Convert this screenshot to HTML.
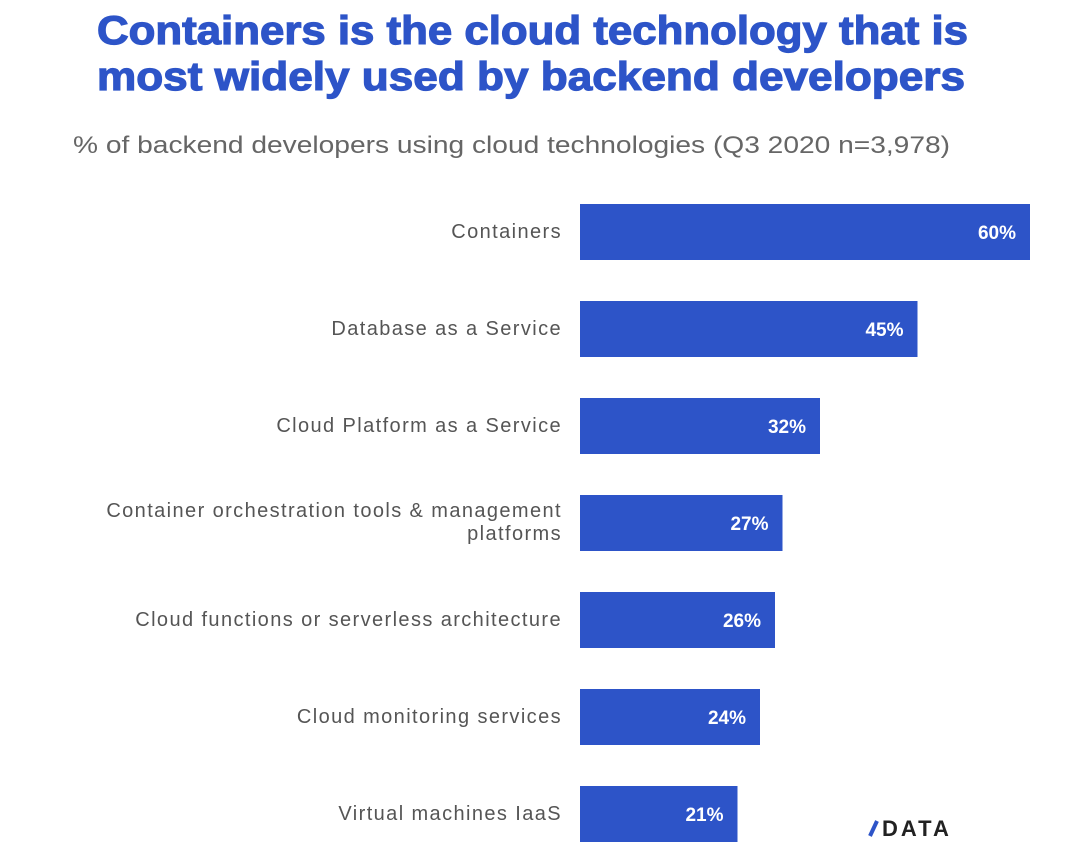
<!DOCTYPE html>
<html><head><meta charset="utf-8"><style>
html,body{margin:0;padding:0;background:#fff;}
svg{display:block;font-family:"Liberation Sans",sans-serif;}
</style></head><body>
<svg id="chart" width="1080" height="851" viewBox="0 0 1080 851" xmlns="http://www.w3.org/2000/svg">
<text x="97" y="44" font-size="40" font-weight="bold" fill="#2d54c8" stroke="#2d54c8" stroke-width="1.2" textLength="871" lengthAdjust="spacingAndGlyphs">Containers is the cloud technology that is</text>
<text x="97" y="90" font-size="40" font-weight="bold" fill="#2d54c8" stroke="#2d54c8" stroke-width="1.2" textLength="868" lengthAdjust="spacingAndGlyphs">most widely used by backend developers</text>
<text x="73" y="153" font-size="24" fill="#666" textLength="877" lengthAdjust="spacingAndGlyphs">% of backend developers using cloud technologies (Q3 2020 n=3,978)</text>
<g id="bars"></g>
<g>
<line x1="870" y1="836" x2="877" y2="821" stroke="#2d54c8" stroke-width="4"/>
<text x="882" y="836" font-size="22" font-weight="bold" fill="#222" letter-spacing="3">DATA</text>
</g>
</svg>
<script>
const categories = [["Containers"],["Database as a Service"],["Cloud Platform as a Service"],["Container orchestration tools & management","platforms"],["Cloud functions or serverless architecture"],["Cloud monitoring services"],["Virtual machines IaaS"]];
const values = [60,45,32,27,26,24,21];
const valueLabels = ["60%","45%","32%","27%","26%","24%","21%"];
const NS="http://www.w3.org/2000/svg";
const x0=580, pxPer=7.5, y0=204, step=97, bh=56;
const xScale=v=>x0+v*pxPer;
const yScale=i=>y0+i*step;
const g=document.getElementById('bars');
values.forEach((v,i)=>{
  const y=yScale(i);
  const r=document.createElementNS(NS,'rect');
  
  
  r.setAttribute('x',x0);r.setAttribute('y',y);
  r.setAttribute('width',xScale(v)-x0);r.setAttribute('height',bh);
  r.setAttribute('fill','#2d54c8');
  g.appendChild(r);
  const t=document.createElementNS(NS,'text');
  
  
  t.setAttribute('x',xScale(v)-14);t.setAttribute('y',y+bh/2+7);
  t.setAttribute('text-anchor','end');t.setAttribute('font-size','19');
  t.setAttribute('font-weight','bold');t.setAttribute('fill','#fff');
  t.textContent=valueLabels[i];
  g.appendChild(t);
  const lines=categories[i];
  lines.forEach((ln,j)=>{
    const c=document.createElementNS(NS,'text');
    
    
    c.setAttribute('x',562);
    const off=lines.length===1?6:(j===0?-6:17);
    c.setAttribute('y',y+bh/2+off);
    c.setAttribute('text-anchor','end');c.setAttribute('font-size','20');
    c.setAttribute('fill','#555');c.setAttribute('letter-spacing','1.4');
    c.textContent=ln;
    g.appendChild(c);
  });
});
</script>
</body></html>
